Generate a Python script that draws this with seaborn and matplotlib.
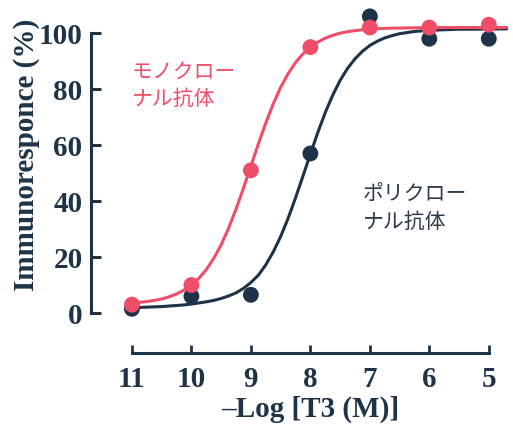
import matplotlib
matplotlib.use("Agg")
from matplotlib import pyplot as plt
import pandas as pd
import seaborn as sns

# measured points: -log[T3] vs immunoresponse (%)
log_dose = [11, 10, 9, 8, 7, 6, 5]
mono_resp = [3, 10, 51, 95, 102, 102, 103]
poly_resp = [1.5, 6, 6.5, 57, 106, 98, 98]

# fitted curves
curve_x = [11.1, 11, 10.75, 10.625, 10.5, 10.375, 10.25, 10.125, 10, 9.875, 9.75, 9.625,
           9.5, 9.375, 9.25, 9.125, 9, 8.875, 8.75, 8.625, 8.5, 8.375, 8.25, 8.125, 8,
           7.875, 7.75, 7.625, 7.5, 7.375, 7.25, 7.125, 7, 6.875, 6.75, 6.625, 6.5, 6.25,
           6, 5.75, 5.5, 5.25, 5, 4.7]
mono_curve = [3.4, 3.6, 4.1, 4.5, 5.0, 5.8, 6.8, 8.2, 10.0, 12.4, 15.5, 19.5,
              24.4, 30.3, 37.1, 44.6, 52.5, 60.4, 67.9, 74.7, 80.6, 85.5, 89.5, 92.6, 95.0,
              96.8, 98.2, 99.2, 100.0, 100.5, 100.9, 101.2, 101.4, 101.6, 101.7, 101.8, 101.8, 101.9,
              101.95, 102, 102, 102, 102, 102]
poly_curve = [1.8, 1.9, 2.1, 2.2, 2.3, 2.5, 2.7, 2.9, 3.2, 3.6, 4.0, 4.5,
              5.2, 6.1, 7.2, 8.8, 10.9, 13.5, 17.2, 21.8, 27.3, 33.8, 41.1, 48.9, 56.8,
              64.5, 71.6, 77.8, 83.1, 87.4, 90.8, 93.5, 95.6, 97.1, 98.3, 99.1, 99.8, 100.6,
              101.0, 101.2, 101.4, 101.4, 101.5, 101.5]

mono_label = "モノクロー\nナル抗体"
poly_label = "ポリクロー\nナル抗体"

PINK = "#ef4d68"
NAVY = "#1f3348"

sns.set_style("ticks")

df_pts = pd.DataFrame({"x": log_dose * 2,
                       "y": poly_resp + mono_resp,
                       "ab": ["poly"] * len(log_dose) + ["mono"] * len(log_dose)})
df_curve = pd.DataFrame({"x": curve_x * 2,
                         "y": poly_curve + mono_curve,
                         "ab": ["poly"] * len(curve_x) + ["mono"] * len(curve_x)})
pal = {"poly": NAVY, "mono": PINK}

fig = plt.figure(figsize=(5.13, 4.30), dpi=100)
ax = fig.add_axes([0.234, 0.246, 0.742, 0.716])

sns.lineplot(data=df_curve, x="x", y="y", hue="ab", palette=pal, ax=ax,
             linewidth=2.2, legend=False, sort=False, estimator=None, clip_on=False,
             solid_joinstyle="round", solid_capstyle="round")
sns.scatterplot(data=df_pts, x="x", y="y", hue="ab", palette=pal, ax=ax,
                s=130, edgecolor="none", legend=False, clip_on=False, zorder=3)

ax.set_xlim(11.2, 4.8)
ax.set_ylim(-4, 106)
ax.set_xticks(log_dose)
ax.set_yticks([0, 20, 40, 60, 80, 100])

for pos in ["right", "top"]:
    ax.spines[pos].set_visible(False)
for pos in ["left", "bottom"]:
    ax.spines[pos].set_position(("outward", 21))
    ax.spines[pos].set_linewidth(2.2)
    ax.spines[pos].set_color(NAVY)
ax.spines["left"].set_bounds(0, 100)
ax.spines["bottom"].set_bounds(5, 11)

ax.tick_params(axis="y", direction="in", length=7, width=2.2, color=NAVY, pad=6)
ax.tick_params(axis="x", direction="in", length=6, width=2.0, color=NAVY, pad=9)
for lab in ax.get_xticklabels() + ax.get_yticklabels():
    lab.set_fontfamily("Liberation Serif")
    lab.set_fontweight("bold")
    lab.set_fontsize(21)
    lab.set_color(NAVY)

ax.set_ylabel("Immunoresponce (%)", fontfamily="Liberation Serif", fontweight="bold",
              fontsize=21, color=NAVY)
ax.yaxis.set_label_coords(-0.21, 0.55)
ax.set_xlabel("–Log [T3 (M)]", fontfamily="Liberation Serif", fontweight="bold",
              fontsize=21, color=NAVY)
ax.xaxis.set_label_coords(0.5, -0.232)

ax.text(11.0, 81.2, mono_label, color=PINK, fontsize=15, ha="left", va="center",
        family=["Noto Sans CJK JP", "DejaVu Sans"], linespacing=1.3)
ax.text(7.12, 37.3, poly_label, color="#2b3a4c", fontsize=15, ha="left", va="center",
        family=["Noto Sans CJK JP", "DejaVu Sans"], linespacing=1.3)

fig.savefig("out.png", dpi=100)
